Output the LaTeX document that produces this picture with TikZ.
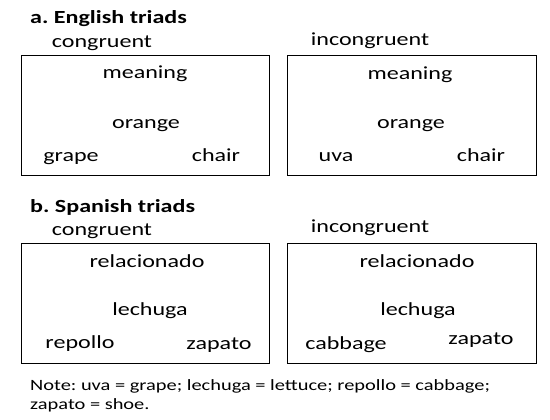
\documentclass[tikz,border=0pt]{standalone}
\usepackage{fontspec}
\setmainfont{Carlito}[FakeStretch=1.3]
\frenchspacing
\begin{document}
\begin{tikzpicture}[x=1pt,y=-1pt]
		\tikzset{every node/.style={inner sep=0pt,font=\fontsize{18.5}{22}\selectfont},
			word/.style={anchor=base},
			head/.style={anchor=base west,font=\fontsize{18.5}{22}\selectfont\bfseries},
			triad/.style={draw,line width=1pt,minimum width=248pt,minimum height=120pt},
			note/.style={anchor=base west,font=\fontsize{15.7}{20}\selectfont}}
		\useasboundingbox (0,0) rectangle (550,420);
		\node [head] (ha) at (30,24) {a. English triads};
		\node [word] (ca) at (102,48) {congruent};
		\node [word] (ia) at (370,46) {incongruent};
		\node [triad] (ba1) at (145.5,116) {};
		\node [triad,minimum width=249pt] (ba2) at (411.5,116) {};
		\node [word] (ma1) at (145,79) {meaning};
		\node [word] (oa1) at (146,129) {orange};
		\node [word] (ga1) at (71,162) {grape};
		\node [word] (ha1) at (216,162) {chair};
		\node [word] (ma2) at (410,80) {meaning};
		\node [word] (oa2) at (411,129) {orange};
		\node [word] (ua2) at (336,162) {uva};
		\node [word] (ha2) at (481,162) {chair};
		\node [head] (hb) at (30,212) {b. Spanish triads};
		\node [word] (cb) at (102,236) {congruent};
		\node [word] (ib) at (370,233) {incongruent};
		\node [triad] (bb1) at (145.5,303) {};
		\node [triad,minimum width=249pt] (bb2) at (411.5,303) {};
		\node [word] (rb1) at (147,267) {relacionado};
		\node [word] (lb1) at (150,316) {lechuga};
		\node [word] (pb1) at (80,348) {repollo};
		\node [word] (zb1) at (219,349) {zapato};
		\node [word] (rb2) at (417,268) {relacionado};
		\node [word] (lb2) at (418,315) {lechuga};
		\node [word] (kb2) at (346,349) {cabbage};
		\node [word] (zb2) at (481,344) {zapato};
		\node [note] (nt1) at (30,390) {Note: uva = grape; lechuga = lettuce; repollo = cabbage;};
		\node [note] (nt2) at (30,409) {zapato = shoe.};
	\end{tikzpicture}
\end{document}
